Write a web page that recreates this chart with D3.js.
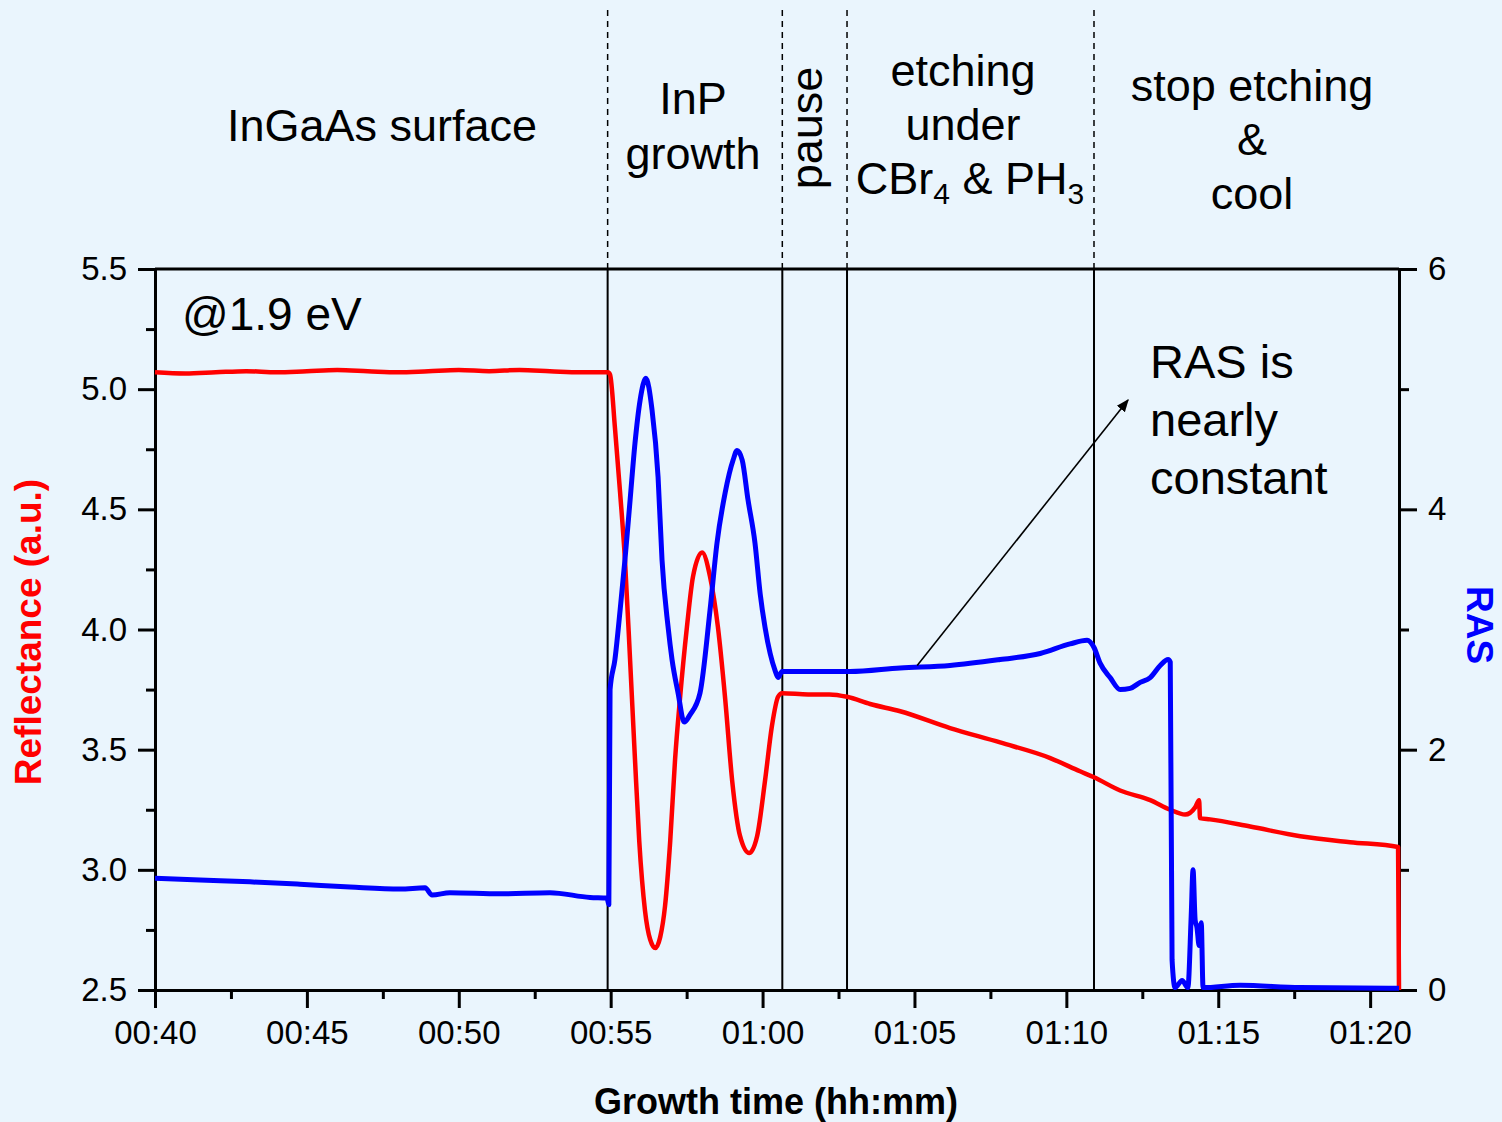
<!DOCTYPE html>
<html>
<head>
<meta charset="utf-8">
<script src="https://cdn.jsdelivr.net/npm/d3@7"></script>
<style>
  html, body { margin: 0; padding: 0; background: #eaf5fd; }
  svg { display: block; font-family: "Liberation Sans", Arial, sans-serif; }
</style>
</head>
<body>
<svg id="chart" width="1502" height="1122"></svg>
<script>
// time in minutes since 00:00
const reflTime = [40, 41, 42, 43, 44, 45, 46, 47, 48, 49, 50, 51, 52, 53, 54, 54.91,
  54.98, 55.14, 55.31, 55.47, 55.64, 55.80, 55.94, 56.13, 56.30, 56.47, 56.63, 56.79, 56.96,
  57.12, 57.28, 57.51, 57.71, 58.01, 58.27, 58.53, 58.77, 59.0, 59.26, 59.56, 59.82, 60.08,
  60.31, 60.51, 60.64, 61.5, 62.2, 62.78, 63.54, 64.53, 66.17, 67.82, 69.47, 70.45, 70.91,
  71.77, 72.76, 73.42, 73.91, 74.24, 74.37, 74.40, 74.73, 76.05, 77.70, 79.34, 80.92, 80.95];
const reflValue = [5.07, 5.065, 5.07, 5.075, 5.07, 5.075, 5.08, 5.075, 5.07, 5.075, 5.08, 5.075, 5.08, 5.075, 5.07, 5.07,
  5.06, 4.84, 4.57, 4.29, 3.87, 3.46, 3.12, 2.83, 2.71, 2.675, 2.72, 2.85, 3.12,
  3.46, 3.71, 4.01, 4.22, 4.32, 4.22, 4.01, 3.71, 3.37, 3.14, 3.07, 3.14, 3.37,
  3.60, 3.72, 3.735, 3.73, 3.73, 3.72, 3.69, 3.66, 3.59, 3.53, 3.465, 3.41, 3.385,
  3.33, 3.29, 3.25, 3.23, 3.26, 3.29, 3.215, 3.21, 3.18, 3.14, 3.115, 3.095, 2.5];

const rasTime = [40, 41.48, 43.13, 44.77, 46.42, 48.07, 48.89, 49.12, 49.71, 51.36, 53.0, 54.32, 54.88, 54.94,
  54.98, 55.14, 55.31, 55.47, 55.64, 55.80, 55.97, 56.16, 56.36, 56.56, 56.69, 56.89, 57.02,
  57.22, 57.42, 57.61, 57.94, 58.27, 58.50, 58.77, 59.03, 59.16, 59.33, 59.52, 59.75, 59.92,
  60.08, 60.25, 60.41, 60.51, 60.64, 61.89, 62.88, 64.53, 66.17, 67.82, 69.14, 70.12, 70.68,
  70.91, 71.11, 71.44, 71.77, 72.10, 72.43, 72.76, 73.09, 73.35, 73.42, 73.48, 73.58, 73.81,
  74.0, 74.11, 74.17, 74.24, 74.30, 74.37, 74.44, 74.50, 75.72, 77.70, 80.95];
const rasValue = [0.93, 0.915, 0.90, 0.88, 0.857, 0.84, 0.85, 0.79, 0.81, 0.80, 0.81, 0.77, 0.765, 0.71,
  2.50, 2.75, 3.16, 3.58, 4.08, 4.55, 4.91, 5.09, 4.83, 4.27, 3.58, 3.02, 2.75,
  2.47, 2.23, 2.29, 2.47, 3.16, 3.72, 4.14, 4.41, 4.49, 4.41, 4.08, 3.72, 3.30,
  3.02, 2.80, 2.66, 2.60, 2.65, 2.65, 2.65, 2.68, 2.70, 2.75, 2.80, 2.88, 2.91,
  2.85, 2.72, 2.60, 2.50, 2.51, 2.56, 2.60, 2.70, 2.75, 2.73, 0.25, 0.02, 0.08,
  0.02, 0.62, 1.0, 0.58, 0.52, 0.37, 0.56, 0.02, 0.04, 0.02, 0.015];

const phaseBounds = [54.9, 60.65, 62.78, 70.91];
const xMajor = [40, 45, 50, 55, 60, 65, 70, 75, 80];
const xMinor = [42.5, 47.5, 52.5, 57.5, 62.5, 67.5, 72.5, 77.5];
const yMajor = [2.5, 3.0, 3.5, 4.0, 4.5, 5.0, 5.5];
const yMinor = [2.75, 3.25, 3.75, 4.25, 4.75, 5.25];
const rMajor = [0, 2, 4, 6];
const rMinor = [1, 3, 5];

const svg = d3.select("#chart");
const mLeft = 155, mRight = 1399, mTop = 269, mBottom = 990;

const x = d3.scaleLinear().domain([40, 80.95]).range([mLeft, mRight]);
const y = d3.scaleLinear().domain([2.5, 5.5]).range([mBottom, mTop]);
const y2 = d3.scaleLinear().domain([0, 6]).range([mBottom, mTop]);

const hhmm = (m) => String(Math.floor(m / 60)).padStart(2, "0") + ":" + String(m % 60).padStart(2, "0");

// phase separators
svg.append("g")
  .selectAll("line")
  .data(phaseBounds)
  .join("line")
  .attr("x1", (d) => x(d)).attr("x2", (d) => x(d))
  .attr("y1", mTop).attr("y2", mBottom)
  .attr("stroke", "black").attr("stroke-width", 2);

svg.append("g")
  .selectAll("line")
  .data(phaseBounds)
  .join("line")
  .attr("x1", (d) => x(d)).attr("x2", (d) => x(d))
  .attr("y1", 10).attr("y2", mTop)
  .attr("stroke", "black").attr("stroke-width", 1.5)
  .attr("stroke-dasharray", "6,5");

// axes
function styleAxis(g) {
  g.selectAll(".domain").attr("stroke-width", 3);
  g.selectAll(".tick line").attr("stroke-width", 3);
  g.selectAll("text").attr("font-size", 33).attr("fill", "black")
    .attr("font-family", "Liberation Sans, Arial, sans-serif");
}

svg.append("g").attr("transform", `translate(0,${mBottom})`)
  .call(d3.axisBottom(x).tickValues(xMinor).tickSize(9).tickFormat("").tickSizeOuter(0))
  .call(styleAxis);
svg.append("g").attr("transform", `translate(0,${mBottom})`)
  .call(d3.axisBottom(x).tickValues(xMajor).tickSize(18).tickPadding(13).tickFormat(hhmm).tickSizeOuter(0))
  .call(styleAxis);

svg.append("g").attr("transform", `translate(${mLeft},0)`)
  .call(d3.axisLeft(y).tickValues(yMinor).tickSize(9).tickFormat("").tickSizeOuter(0))
  .call(styleAxis);
svg.append("g").attr("transform", `translate(${mLeft},0)`)
  .call(d3.axisLeft(y).tickValues(yMajor).tickSize(17).tickPadding(11).tickFormat(d3.format(".1f")).tickSizeOuter(0))
  .call(styleAxis);

svg.append("g").attr("transform", `translate(${mRight},0)`)
  .call(d3.axisRight(y2).tickValues(rMinor).tickSize(10).tickFormat("").tickSizeOuter(0))
  .call(styleAxis);
svg.append("g").attr("transform", `translate(${mRight},0)`)
  .call(d3.axisRight(y2).tickValues(rMajor).tickSize(18).tickPadding(11).tickFormat(d3.format("d")).tickSizeOuter(0))
  .call(styleAxis);

svg.append("line")
  .attr("x1", mLeft).attr("x2", mRight).attr("y1", mTop).attr("y2", mTop)
  .attr("stroke", "black").attr("stroke-width", 3);

// series
const refl = reflTime.map((t, i) => [t, reflValue[i]]);
const ras = rasTime.map((t, i) => [t, rasValue[i]]);

svg.append("path")
  .datum(refl)
  .attr("fill", "none").attr("stroke", "#ff0000").attr("stroke-width", 4.5)
  .attr("stroke-linejoin", "round")
  .attr("d", d3.line().x((d) => x(d[0])).y((d) => y(d[1])).curve(d3.curveMonotoneX));

svg.append("path")
  .datum(ras)
  .attr("fill", "none").attr("stroke", "#0000ff").attr("stroke-width", 5)
  .attr("stroke-linejoin", "round")
  .attr("d", d3.line().x((d) => x(d[0])).y((d) => y2(d[1])).curve(d3.curveMonotoneX));

// arrow
svg.append("defs").append("marker")
  .attr("id", "arrow").attr("viewBox", "0 0 10 10")
  .attr("refX", 9).attr("refY", 5)
  .attr("markerWidth", 8).attr("markerHeight", 8)
  .attr("orient", "auto")
  .append("path").attr("d", "M0,1L10,5L0,9z").attr("fill", "black");

svg.append("line")
  .attr("x1", x(65.09)).attr("y1", y2(2.70))
  .attr("x2", x(72.03)).attr("y2", y2(4.91))
  .attr("stroke", "black").attr("stroke-width", 1.6)
  .attr("marker-end", "url(#arrow)");

// text labels
function label(lines, cx, y0, step, size, anchor) {
  const t = svg.append("text")
    .attr("font-size", size).attr("text-anchor", anchor || "middle").attr("fill", "black");
  lines.forEach((l, i) => {
    t.append("tspan").attr("x", cx).attr("y", y0 + i * step).text(l);
  });
  return t;
}

label(["InGaAs surface"], 382, 141, 0, 45);
label(["InP", "growth"], 693, 114, 55, 45);
label(["etching", "under"], 963, 86, 54, 45);
label(["stop etching", "&", "cool"], 1252, 101, 54, 45);
label(["@1.9 eV"], 182, 330, 0, 46, "start");
label(["RAS is", "nearly", "constant"], 1150, 378, 58, 47, "start");

const chem = svg.append("text").attr("font-size", 45).attr("text-anchor", "middle")
  .attr("x", 970).attr("y", 194);
chem.append("tspan").text("CBr");
chem.append("tspan").attr("font-size", 30).attr("dy", 10).text("4");
chem.append("tspan").attr("dy", -10).text(" & PH");
chem.append("tspan").attr("font-size", 30).attr("dy", 10).text("3");

svg.append("text")
  .attr("transform", `translate(822,${128}) rotate(-90)`)
  .attr("text-anchor", "middle").attr("font-size", 45).text("pause");

// axis titles
svg.append("text")
  .attr("x", 776).attr("y", 1114)
  .attr("text-anchor", "middle").attr("font-size", 36).attr("font-weight", "bold")
  .text("Growth time (hh:mm)");

svg.append("text")
  .attr("transform", `translate(41,632) rotate(-90)`)
  .attr("text-anchor", "middle").attr("font-size", 37).attr("font-weight", "bold")
  .attr("fill", "#ff0000")
  .text("Reflectance (a.u.)");

svg.append("text")
  .attr("transform", `translate(1467,625) rotate(90)`)
  .attr("text-anchor", "middle").attr("font-size", 37).attr("font-weight", "bold")
  .attr("fill", "#0000ff")
  .text("RAS");
</script>
</body>
</html>
